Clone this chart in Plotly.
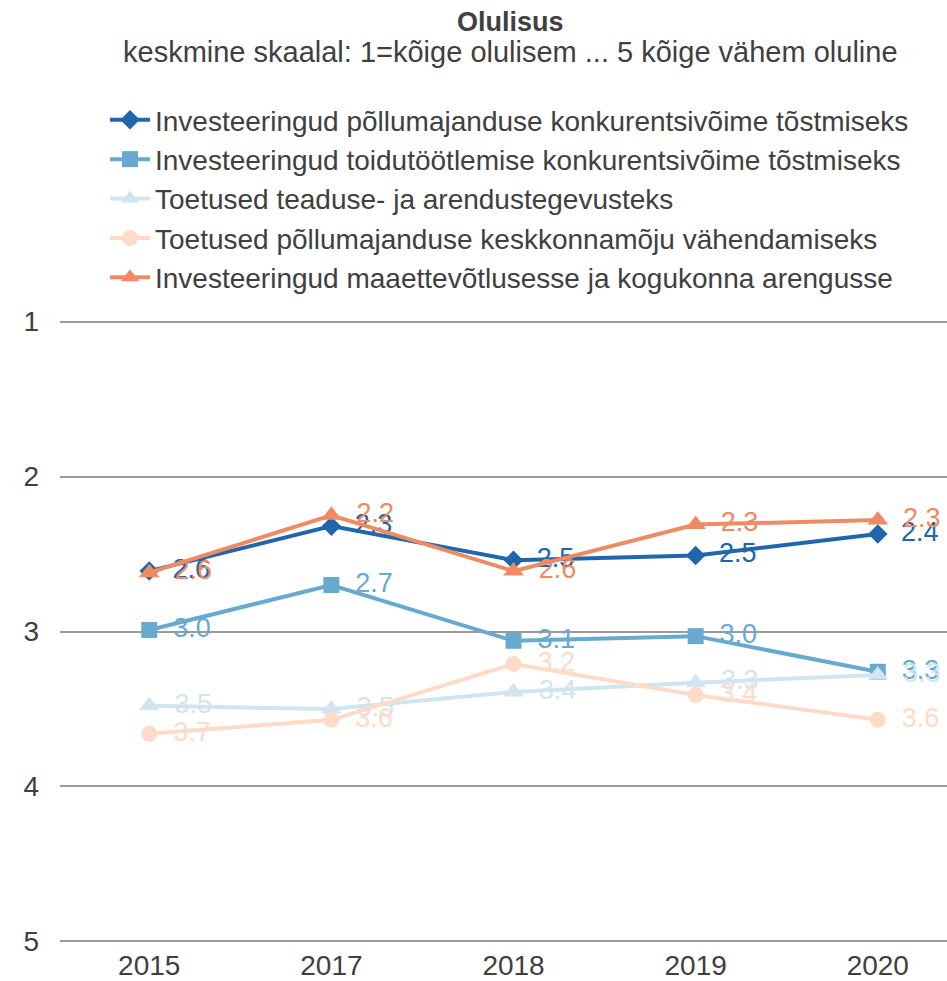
import plotly.graph_objects as go

years = ["2015", "2017", "2018", "2019", "2020"]

series_names = [
    "Investeeringud põllumajanduse konkurentsivõime tõstmiseks",
    "Investeeringud toidutöötlemise konkurentsivõime tõstmiseks",
    "Toetused teaduse- ja arendustegevusteks",
    "Toetused põllumajanduse keskkonnamõju vähendamiseks",
    "Investeeringud maaettevõtlusesse ja kogukonna arengusse",
]

s1_values = [2.61, 2.32, 2.54, 2.51, 2.37]
s2_values = [2.99, 2.70, 3.06, 3.03, 3.26]
s3_values = [3.48, 3.50, 3.39, 3.33, 3.28]
s4_values = [3.66, 3.57, 3.21, 3.41, 3.57]
s5_values = [2.62, 2.25, 2.61, 2.31, 2.28]

y_ticks = [1, 2, 3, 4, 5]

title_text = "Olulisus"
subtitle_text = "keskmine skaalal: 1=kõige olulisem ... 5 kõige vähem oluline"

all_values = [s1_values, s2_values, s3_values, s4_values, s5_values]
colors = ["#2166ac", "#67a9cf", "#d1e5f0", "#fddbc7", "#ef8a62"]
symbols = ["diamond", "square", "triangle-up", "circle", "triangle-up"]
sizes = [15, 16, 18, 16, 18]

FONT = "Liberation Sans, Arial, sans-serif"
TXT = "#404040"

# plot area in pixels (range slightly padded so edge gridlines are drawn)
PT, PB = 317, 949
PH = PB - PT


def py(p):
    return (PB - p) / PH


fig = go.Figure()
for name, vals, c, sym, sz in zip(series_names, all_values, colors, symbols, sizes):
    fig.add_trace(go.Scatter(
        x=years, y=vals, name=name, mode="lines+markers+text",
        line=dict(color=c, width=4),
        marker=dict(color=c, symbol=sym, size=sz),
        text=[f"{v:.1f}" for v in vals],
        texttemplate=" \u2009%{text}",
        textposition="middle right",
        textfont=dict(color=c, size=27, family=FONT),
        cliponaxis=False,
    ))

fig.add_annotation(text="<b>" + title_text + "</b>", xref="paper", yref="paper",
                   x=(510 - 60) / 887, y=py(21), xanchor="center", yanchor="middle",
                   showarrow=False, font=dict(size=27, color=TXT, family=FONT))
fig.add_annotation(text=subtitle_text, xref="paper", yref="paper",
                   x=(510 - 60) / 887, y=py(51), xanchor="center", yanchor="middle",
                   showarrow=False, font=dict(size=29, color=TXT, family=FONT))

fig.update_layout(
    width=947, height=981,
    margin=dict(l=60, r=0, t=PT, b=981 - PB),
    paper_bgcolor="white", plot_bgcolor="white",
    font=dict(family=FONT, color=TXT, size=28),
    showlegend=True,
    legend=dict(
        x=(105 - 60) / 887, xanchor="left",
        y=py(94), yanchor="top",
        font=dict(size=28, color=TXT, family=FONT),
        bgcolor="rgba(0,0,0,0)",
        itemwidth=40,
        tracegroupgap=0,
    ),
    xaxis=dict(
        type="category", range=[-0.49, 4.38],
        showgrid=False, zeroline=False, showline=False,
        tickfont=dict(size=28, color=TXT, family=FONT),
        ticks="",
    ),
    yaxis=dict(
        range=[5.03, 0.97], tickvals=y_ticks, ticktext=[str(t) for t in y_ticks],
        showgrid=True, gridcolor="#9a9a9a", gridwidth=2,
        zeroline=False, showline=False, ticks="",
        tickfont=dict(size=28, color=TXT, family=FONT),
        ticklabelstandoff=20,
    ),
)

post = "document.body.style.margin='0';document.body.style.overflow='hidden';"
fig.write_html("out.html", config={"displayModeBar": False}, post_script=post)
